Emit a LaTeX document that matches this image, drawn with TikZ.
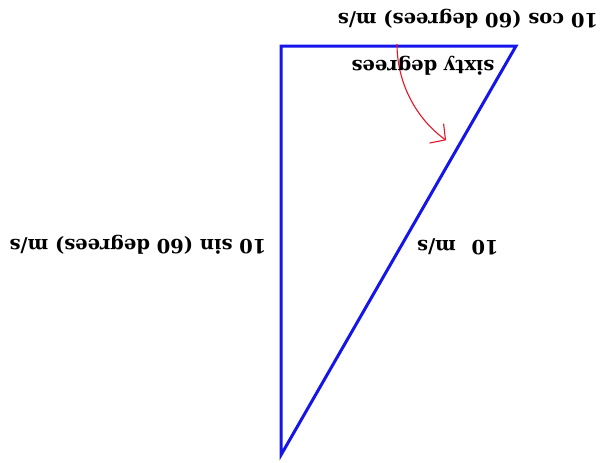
\documentclass[tikz,border=0pt]{standalone}
\usepackage{fontspec}
\setmainfont{DejaVu Serif}
\usetikzlibrary{arrows.meta}
\definecolor{triblue}{RGB}{20,20,235}
\definecolor{arcred}{RGB}{230,20,40}
\begin{document}
\begin{tikzpicture}[x=1pt,y=-1pt,
  lbl/.style={font=\fontsize{19.5}{23}\selectfont\bfseries, rotate=180, inner sep=0pt},
  side/.style={draw=triblue, line width=3pt, line join=miter}]
\useasboundingbox (0,0) rectangle (603,463);
\fill[white] (0,0) rectangle (603,463);
\coordinate (A) at (281,46);
\coordinate (B) at (516,46);
\coordinate (C) at (281,455);
\draw[side] (A) -- (B) -- (C) -- cycle;
\coordinate (S) at (397,44);
\draw[arcred, line width=1.1pt, -{Straight Barb[length=11pt,width=24pt]}] (S) arc[start angle=180, end angle=126, radius=119];
\node[lbl] (cos) at (468,19) {10 cos (60 degrees) m/s};
\node[lbl] (sixty) at (423,66) {sixty degrees};
\node[lbl] (sin) at (138,245) {10 sin (60 degrees) m/s};
\node[lbl] (hyp) at (458,247) {10\hspace{0.8em}m/s};
\end{tikzpicture}
\end{document}
